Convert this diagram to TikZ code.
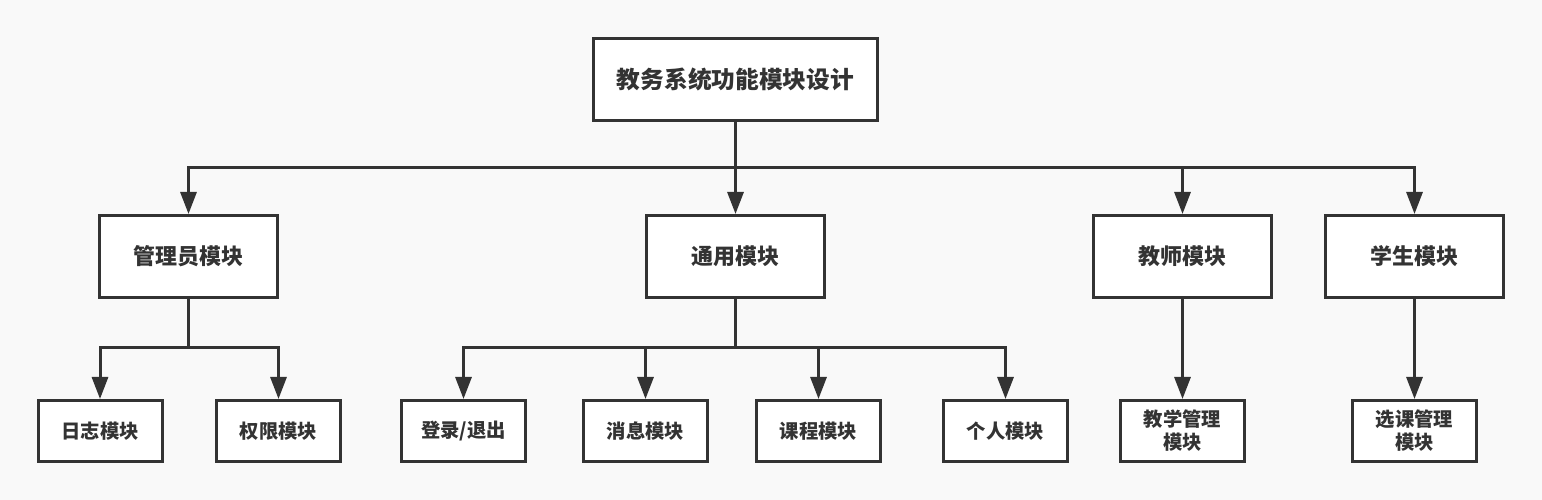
\documentclass[tikz,border=0pt]{standalone}
\usepackage{fontspec}
\setmainfont{Noto Sans CJK SC}
\usetikzlibrary{arrows.meta}
\definecolor{ink}{HTML}{333333}
\definecolor{paper}{HTML}{F9F9F9}
\tikzset{
  box/.style={draw=ink, fill=white, line width=0.06cm, text=ink, font=\bfseries, align=center, inner sep=0pt},
  rootbox/.style={box, minimum width=5.68cm, minimum height=1.64cm, font=\fontsize{13.5}{16}\bfseries},
  modbox/.style={box, minimum width=3.56cm, minimum height=1.64cm, font=\fontsize{12.5}{15}\bfseries},
  leafbox/.style={box, minimum width=2.48cm, minimum height=1.22cm, font=\fontsize{11}{13}\bfseries},
  link/.style={draw=ink, line width=0.06cm, -{Triangle[width=0.32cm, length=0.44cm]}}
}
\begin{document}
\begin{tikzpicture}
  \fill[paper] (0,0) rectangle (30.84,-10);
  \useasboundingbox (0,0) rectangle (30.84,-10);
  \node[rootbox] (root) at (14.71,-1.59) {教务系统功能模块设计};
  \node[modbox] (admin) at (3.77,-5.13) {管理员模块};
  \node[modbox] (common) at (14.71,-5.13) {通用模块};
  \node[modbox] (teacher) at (23.65,-5.13) {教师模块};
  \node[modbox] (student) at (28.29,-5.13) {学生模块};
  \node[leafbox] (log) at (2.00,-8.62) {日志模块};
  \node[leafbox] (perm) at (5.57,-8.62) {权限模块};
  \node[leafbox] (login) at (9.27,-8.62) {登录/退出};
  \node[leafbox] (msg) at (12.91,-8.62) {消息模块};
  \node[leafbox] (course) at (16.37,-8.62) {课程模块};
  \node[leafbox] (self) at (20.11,-8.62) {个人模块};
  \node[leafbox] (teach) at (23.65,-8.62) {教学管理\\模块};
  \node[leafbox] (select) at (28.29,-8.62) {选课管理\\模块};
  \draw[link] (root.south) -- ++(0,-0.92) -| (admin.north);
  \draw[link] (root.south) -- (common.north);
  \draw[link] (root.south) -- ++(0,-0.92) -| (teacher.north);
  \draw[link] (root.south) -- ++(0,-0.92) -| (student.north);
  \draw[link] (admin.south) -- ++(0,-0.98) -| (log.north);
  \draw[link] (admin.south) -- ++(0,-0.98) -| (perm.north);
  \draw[link] (common.south) -- ++(0,-0.98) -| (login.north);
  \draw[link] (common.south) -- ++(0,-0.98) -| (msg.north);
  \draw[link] (common.south) -- ++(0,-0.98) -| (course.north);
  \draw[link] (common.south) -- ++(0,-0.98) -| (self.north);
  \draw[link] (teacher.south) -- (teach.north);
  \draw[link] (student.south) -- (select.north);
\end{tikzpicture}
\end{document}
